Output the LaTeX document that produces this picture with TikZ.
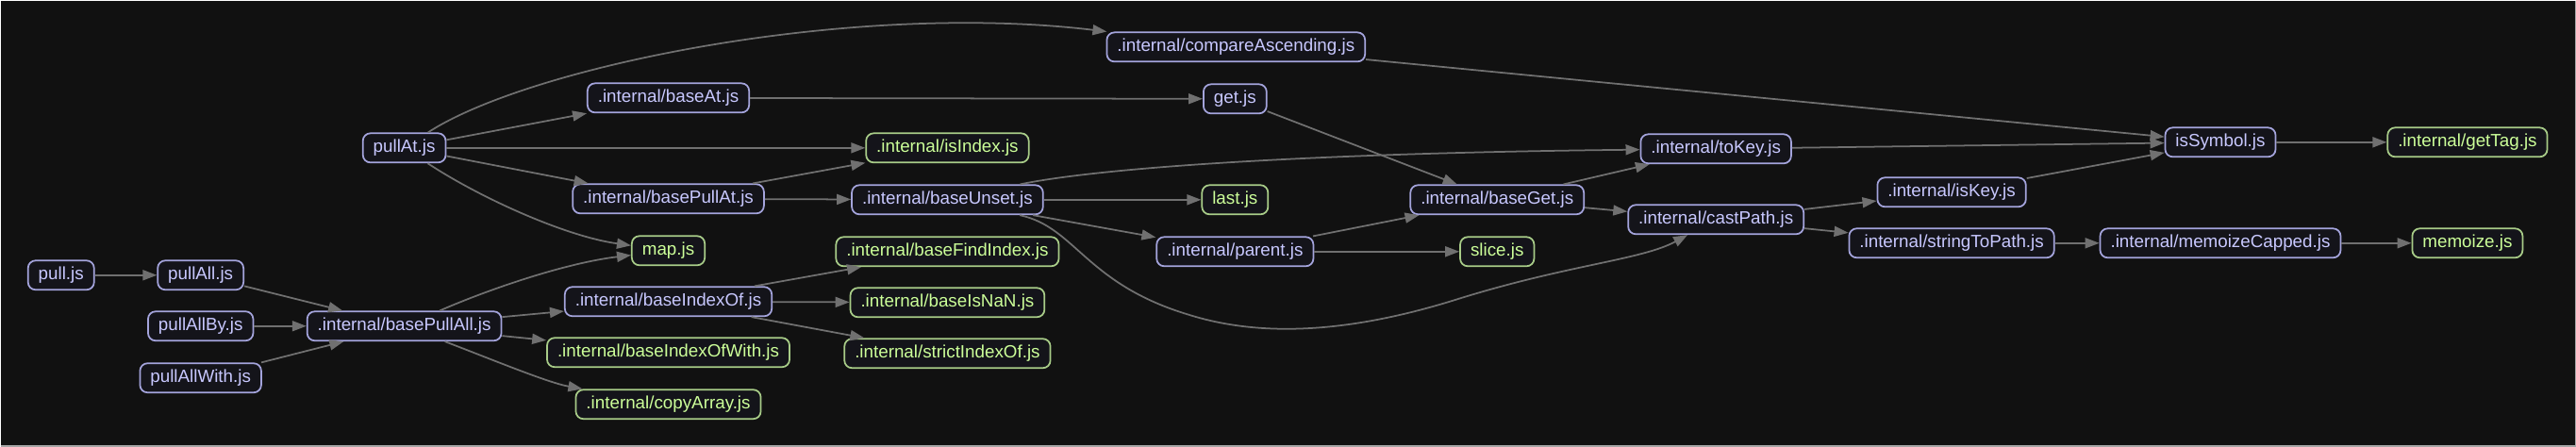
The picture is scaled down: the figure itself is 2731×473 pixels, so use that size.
\documentclass[tikz,border=0pt]{standalone}
\usepackage{fontspec}
\setmainfont{Liberation Sans}
\usepackage{xcolor}
\usetikzlibrary{arrows.meta}

\definecolor{bgdark}{HTML}{111111}
\definecolor{modfill}{HTML}{14141A}
\definecolor{modline}{HTML}{A4A4DC}
\definecolor{modtext}{HTML}{C8C8FF}
\definecolor{leafline}{HTML}{A8CC88}
\definecolor{leaftext}{HTML}{CCFF99}
\definecolor{edgegray}{HTML}{707070}

\begin{document}
\begin{tikzpicture}[
    x=0.02cm, y=-0.02cm,
    mod/.style={draw=modline, fill=modfill, text=modtext, line width=1pt, rounded corners=0.16cm,
        minimum height=0.62cm, inner xsep=0.22cm, inner ysep=0pt, text height=7.8pt, text depth=2.2pt,
        font=\fontsize{10.7}{12}\selectfont},
    leaf/.style={mod, draw=leafline, text=leaftext},
    dep/.style={-{Triangle[length=0.3cm, width=0.22cm]}, edgegray, line width=1pt}
]
% Background
\fill[bgdark] (0,0) rectangle (2731,473);
\draw[gray!70, line width=0.03cm] (0,472.4) -- (2730.4,472.4) -- (2730.4,0);

% Entry modules
\node[mod] (pull) at (64,291) {pull.js};
\node[mod] (pullAll) at (212,291) {pullAll.js};
\node[mod] (pullAllBy) at (212,345) {pullAllBy.js};
\node[mod] (pullAllWith) at (212,400) {pullAllWith.js};
\node[mod] (pullAt) at (428,156) {pullAt.js};
\node[mod] (basePullAll) at (428,345) {.internal/basePullAll.js};

% Third column
\node[mod] (baseAt) at (708,103) {.internal/baseAt.js};
\node[mod] (basePullAt) at (708,210) {.internal/basePullAt.js};
\node[leaf] (map) at (708,265) {map.js};
\node[mod] (baseIndexOf) at (708,319) {.internal/baseIndexOf.js};
\node[leaf] (baseIndexOfWith) at (708,373) {.internal/baseIndexOfWith.js};
\node[leaf] (copyArray) at (708,428) {.internal/copyArray.js};

% Fourth column
\node[leaf] (isIndex) at (1004,156) {.internal/isIndex.js};
\node[mod] (baseUnset) at (1004,211) {.internal/baseUnset.js};
\node[leaf] (baseFindIndex) at (1004,266) {.internal/baseFindIndex.js};
\node[leaf] (baseIsNaN) at (1004,320) {.internal/baseIsNaN.js};
\node[leaf] (strictIndexOf) at (1004,374) {.internal/strictIndexOf.js};

% Middle columns
\node[mod] (compareAsc) at (1310,49) {.internal/compareAscending.js};
\node[mod] (get) at (1309,104) {get.js};
\node[leaf] (last) at (1309,211) {last.js};
\node[mod] (parent) at (1309,266) {.internal/parent.js};
\node[mod] (baseGet) at (1587,211) {.internal/baseGet.js};
\node[leaf] (slice) at (1587,266) {slice.js};
\node[mod] (toKey) at (1819,157) {.internal/toKey.js};
\node[mod] (castPath) at (1819,232) {.internal/castPath.js};

% Right columns
\node[mod] (isKey) at (2069,203) {.internal/isKey.js};
\node[mod] (stringToPath) at (2069,257) {.internal/stringToPath.js};
\node[mod] (isSymbol) at (2354,150) {isSymbol.js};
\node[mod] (memoizeCapped) at (2354,257) {.internal/memoizeCapped.js};
\node[leaf] (getTag) at (2616,150) {.internal/getTag.js};
\node[leaf] (memoize) at (2616,257) {memoize.js};

% Edges, left part
\draw[dep] (pull) -- (pullAll);
\draw[dep] (pullAll) -- (basePullAll);
\draw[dep] (pullAllBy) -- (basePullAll);
\draw[dep] (pullAllWith) -- (basePullAll);
\draw[dep] (basePullAll) .. controls (520,305) and (600,278) .. (map);
\draw[dep] (basePullAll) -- (baseIndexOf);
\draw[dep] (basePullAll) -- (baseIndexOfWith);
\draw[dep] (basePullAll) .. controls (520,380) and (580,405) .. (copyArray);
\draw[dep] (pullAt) .. controls (560,70) and (900,0) .. (compareAsc);
\draw[dep] (pullAt) -- (baseAt);
\draw[dep] (pullAt) -- (isIndex);
\draw[dep] (pullAt) -- (basePullAt);
\draw[dep] (pullAt) .. controls (510,210) and (600,250) .. (map);
\draw[dep] (basePullAt) -- (isIndex);
\draw[dep] (basePullAt) -- (baseUnset);
\draw[dep] (baseAt) -- (get);
\draw[dep] (baseIndexOf) -- (baseFindIndex);
\draw[dep] (baseIndexOf) -- (baseIsNaN);
\draw[dep] (baseIndexOf) -- (strictIndexOf);

% Edges, middle part
\draw[dep] (baseUnset) .. controls (1150,180) and (1350,162) .. (toKey);
\draw[dep] (baseUnset) -- (last);
\draw[dep] (baseUnset) -- (parent);
\draw[dep] (baseUnset) .. controls (1140,240) and (1150,300) .. (1260,333)
    .. controls (1330,355) and (1420,355) .. (1540,318)
    .. controls (1660,280) and (1740,275) .. (castPath);
\draw[dep] (get) -- (baseGet);
\draw[dep] (parent) -- (baseGet);
\draw[dep] (parent) -- (slice);
\draw[dep] (baseGet) -- (toKey);
\draw[dep] (baseGet) -- (castPath);

% Edges, right part
\draw[dep] (compareAsc) -- (isSymbol);
\draw[dep] (toKey) -- (isSymbol);
\draw[dep] (castPath) -- (isKey);
\draw[dep] (castPath) -- (stringToPath);
\draw[dep] (isKey) -- (isSymbol);
\draw[dep] (isSymbol) -- (getTag);
\draw[dep] (stringToPath) -- (memoizeCapped);
\draw[dep] (memoizeCapped) -- (memoize);
\end{tikzpicture}
\end{document}
